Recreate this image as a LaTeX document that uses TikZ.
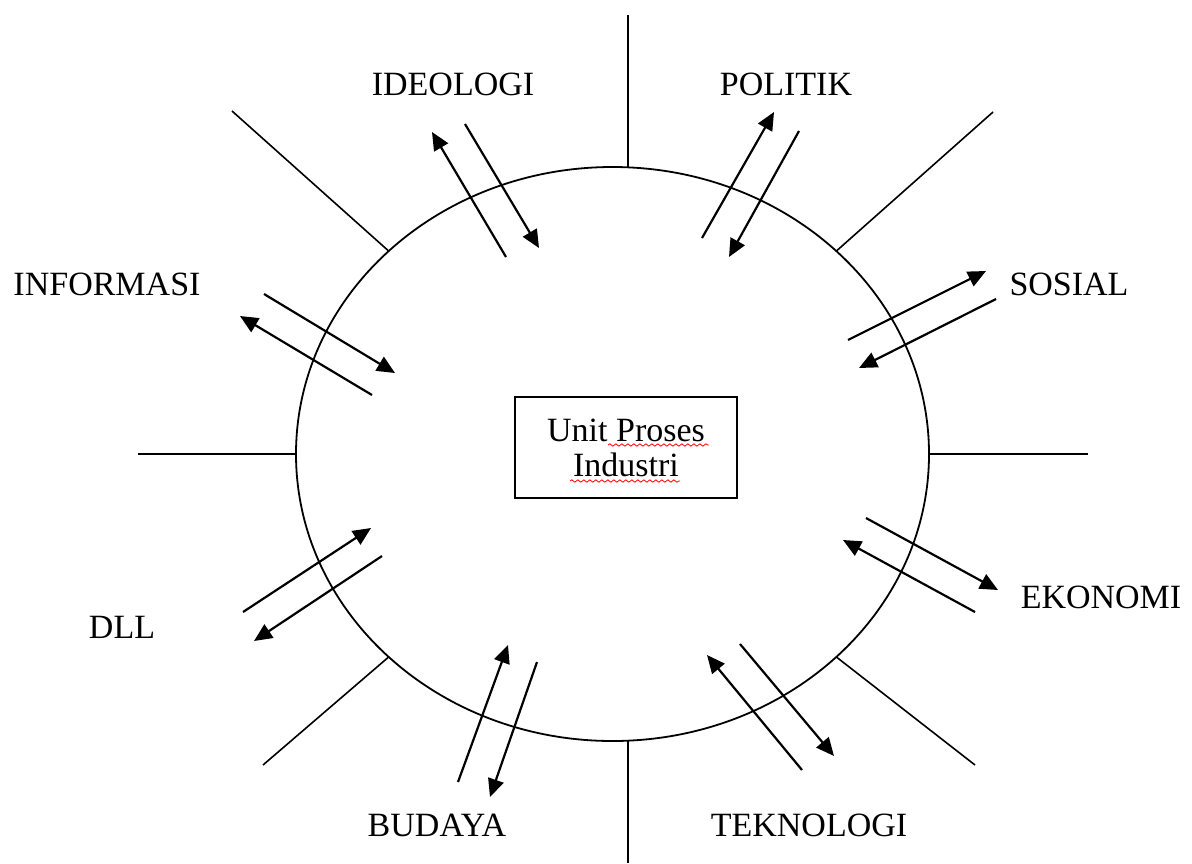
\documentclass[tikz,border=0pt]{standalone}
\usepackage{fontspec}
\setmainfont{Liberation Serif}
\usetikzlibrary{shapes.geometric}
\usetikzlibrary{arrows.meta}
\usetikzlibrary{decorations.pathmorphing}
\tikzset{
    ring/.style = {ellipse, draw=black, line width=0.9pt, minimum width=316.5pt, minimum height=287pt, inner sep=0pt, outer sep=0pt},
    unitbox/.style = {rectangle, draw=black, line width=1pt, minimum width=111pt, minimum height=50.5pt, align=center, inner sep=0pt, font=\fontsize{17}{17.5}\selectfont},
    aspect/.style = {inner sep=0pt, font=\fontsize{17}{20}\selectfont},
    spoke/.style = {line width=0.8pt},
    flow/.style = {line width=1.1pt, -{Triangle[length=9pt, width=8pt]}},
    squiggle/.style = {red, line width=0.4pt, decorate, decoration={snake, amplitude=0.6pt, segment length=3pt}}
}
\begin{document}
\begin{tikzpicture}[x=0.5pt, y=-0.5pt]
    \useasboundingbox (0,0) rectangle (1192,863);
    \node [ring] (env) at (612.5,454) {};
    \node [unitbox] (unit) at (626,447.5) {Unit Proses\\Industri};
    \draw [squiggle] (608,445) -- (709,445);
    \draw [squiggle] (570,481) -- (680,481);

    % spokes
    \coordinate (sN)  at (628,15);
    \coordinate (sS)  at (628,863);
    \coordinate (sE)  at (1088,454);
    \coordinate (sW)  at (138,454);
    \coordinate (sNE) at (993,112);
    \coordinate (sSE) at (975,765);
    \coordinate (sSW) at (263,765);
    \coordinate (sNW) at (232,111);
    \draw [spoke] (sN) -- (sN |- env.north);
    \draw [spoke] (sS) -- (sS |- env.south);
    \draw [spoke] (sE) -- (env.east);
    \draw [spoke] (sW) -- (env.west);
    \draw [spoke] (sNE) -- (env.north east);
    \draw [spoke] (sSE) -- (env.south east);
    \draw [spoke] (sSW) -- (env.south west);
    \draw [spoke] (sNW) -- (env.north west);

    % labels
    \node [aspect] (ideologi)  at (453,84)   {IDEOLOGI};
    \node [aspect] (politik)   at (786,84)   {POLITIK};
    \node [aspect] (sosial)    at (1069,284) {SOSIAL};
    \node [aspect] (ekonomi)   at (1101,597) {EKONOMI};
    \node [aspect] (teknologi) at (809,825)  {TEKNOLOGI};
    \node [aspect] (budaya)    at (437,825)  {BUDAYA};
    \node [aspect] (dll)       at (122,627)  {DLL};
    \node [aspect] (informasi) at (107,284)  {INFORMASI};

    % arrow pairs
    \coordinate (ideoOutA) at (506,257);  \coordinate (ideoOutB) at (432,132);
    \coordinate (ideoInA)  at (465,124);  \coordinate (ideoInB)  at (539,248);
    \coordinate (poliOutA) at (702,238);  \coordinate (poliOutB) at (774,112);
    \coordinate (poliInA)  at (799,131);  \coordinate (poliInB)  at (729,257);
    \coordinate (sosOutA)  at (848,340);  \coordinate (sosOutB)  at (986,271);
    \coordinate (sosInA)   at (996,299);  \coordinate (sosInB)   at (859,368);
    \coordinate (ekoOutA)  at (866,518);  \coordinate (ekoOutB)  at (998,590);
    \coordinate (ekoInA)   at (975,612);  \coordinate (ekoInB)   at (843,540);
    \coordinate (tekInA)   at (802,770);  \coordinate (tekInB)   at (707,655);
    \coordinate (tekOutA)  at (740,644);  \coordinate (tekOutB)  at (834,756);
    \coordinate (budInA)   at (458,782);  \coordinate (budInB)   at (508,645);
    \coordinate (budOutA)  at (537,662);  \coordinate (budOutB)  at (490,797);
    \coordinate (dllInA)   at (243,612);  \coordinate (dllInB)   at (371,528);
    \coordinate (dllOutA)  at (382,556);  \coordinate (dllOutB)  at (254,641);
    \coordinate (infInA)   at (264,294);  \coordinate (infInB)   at (395,373);
    \coordinate (infOutA)  at (372,395);  \coordinate (infOutB)  at (240,316);
    \draw [flow] (ideoOutA) -- (ideoOutB);
    \draw [flow] (ideoInA) -- (ideoInB);
    \draw [flow] (poliOutA) -- (poliOutB);
    \draw [flow] (poliInA) -- (poliInB);
    \draw [flow] (sosOutA) -- (sosOutB);
    \draw [flow] (sosInA) -- (sosInB);
    \draw [flow] (ekoOutA) -- (ekoOutB);
    \draw [flow] (ekoInA) -- (ekoInB);
    \draw [flow] (tekInA) -- (tekInB);
    \draw [flow] (tekOutA) -- (tekOutB);
    \draw [flow] (budInA) -- (budInB);
    \draw [flow] (budOutA) -- (budOutB);
    \draw [flow] (dllInA) -- (dllInB);
    \draw [flow] (dllOutA) -- (dllOutB);
    \draw [flow] (infInA) -- (infInB);
    \draw [flow] (infOutA) -- (infOutB);
\end{tikzpicture}
\end{document}
